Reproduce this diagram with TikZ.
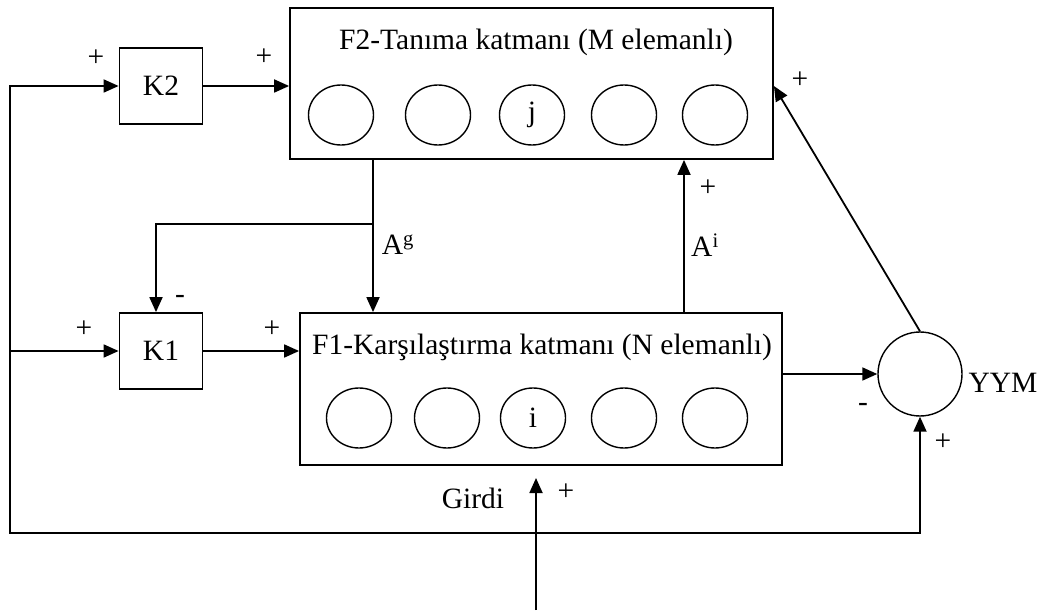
\documentclass[tikz,border=0pt]{standalone}
\usepackage{fontspec}
\setmainfont{Liberation Serif}
\usetikzlibrary{arrows.meta,shapes.geometric}

\begin{document}
\begin{tikzpicture}[x=1pt,y=-1pt,line width=1.8pt,
  font=\fontsize{29.5}{34}\selectfont,
  >={Triangle[length=15pt,width=13pt]},
  kutu/.style={draw,minimum width=83pt,minimum height=76pt,inner sep=0pt},
  katman/.style={draw,inner sep=0pt},
  hucre/.style={draw,ellipse,line width=1.4pt,minimum width=65pt,minimum height=60pt,inner sep=0pt}]
  \useasboundingbox (0,0) rectangle (1047,612);
  \node[kutu] (K2) at (161,86) {K2};
  \node[kutu] (K1) at (161,351) {K1};
  \node[katman,minimum width=483pt,minimum height=151pt] (F2) at (531.5,83.5) {};
  \node[katman,minimum width=482pt,minimum height=152pt] (F1) at (541,389) {};
  \node (F2ad) at (536,42) {F2-Tanıma katmanı (M elemanlı)};
  \node (F1ad) at (542,347) {F1-Karşılaştırma katmanı (N elemanlı)};
  \foreach \x/\t [count=\n] in {341/{},438/{},532/j,624/{},715/{}}
    \node[hucre] (m\n) at (\x,115) {\t};
  \foreach \x/\t [count=\n] in {359/{},447/{},533/i,624/{},715/{}}
    \node[hucre] (n\n) at (\x,418) {\t};
  \node[draw,circle,minimum size=84pt,inner sep=0pt,line width=1.4pt] (YYM) at (920,374) {};
  \node (YYMad) at (1003,383) {YYM};
  \node (girdiad) at (473,498) {Girdi};
  \node (Ag) at (398,245) {A\textsuperscript{g}};
  \node (Ai) at (705,245) {A\textsuperscript{i}};

  \coordinate (sol) at (10,533);
  \coordinate (ag) at (373,224);
  \coordinate (kol) at (156,224);
  \coordinate (ai) at (684,240);
  \coordinate (girdi) at (536,610);
  \coordinate (girdiuc) at (536,478);

  \draw[<->] (YYM) -- (YYM |- sol) -- (sol) -- (sol |- K2) -- (K2);
  \draw[->] (sol |- K1) -- (K1);
  \draw[->] (K2) -- (F2.west |- K2);
  \draw[->] (K1) -- (F1.west |- K1);
  \draw[->] (F2.south -| ag) -- (F1.north -| ag);
  \draw[->] (ag) -- (kol) -- (kol |- K1.north);
  \draw[->] (F1.north -| ai) -- (F2.south -| ai);
  \draw[->] (F1.east |- YYM) -- (YYM);
  \draw[->] (YYM.north) -- (F2.east |- K2);
  \draw[->] (girdi) -- (girdiuc);

  \foreach \x/\y/\s [count=\n] in {96/58/+,264/57/+,84/329/+,272/329/+,180/299/-,
      708/188/+,800/80/+,863/407/-,943/442/+,566/492/+}
    \node (isaret\n) at (\x,\y) {\s};
\end{tikzpicture}
\end{document}
